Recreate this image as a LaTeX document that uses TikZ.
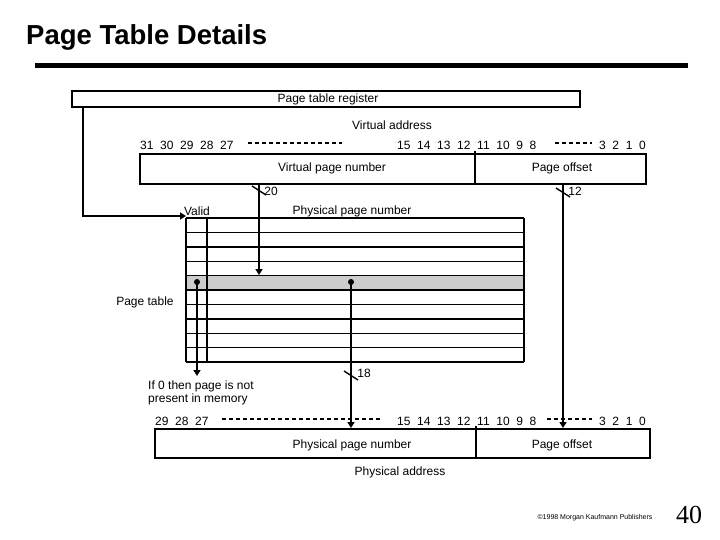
\documentclass[tikz,border=0pt]{standalone}
\usepackage{fontspec}
\setmainfont{Liberation Sans}
\newfontfamily\serifnum{Liberation Serif}
\usetikzlibrary{arrows.meta}
\begin{document}
\begin{tikzpicture}[x=1pt,y=-1pt,
  lbl/.style={inner sep=0pt,font=\fontsize{12}{13}\selectfont},
  box/.style={draw,line width=1.6pt},
  wire/.style={line width=1.6pt},
  arr/.style={wire,-{Triangle[length=6pt,width=7pt]}},
  dots/.style={line width=2pt,dash pattern=on 3.5pt off 3.5pt},
  slash/.style={line width=1.4pt}]
\useasboundingbox (0,0) rectangle (720,540);
\fill[white] (0,0) rectangle (720,540);
% title
\node[anchor=west,inner sep=0pt,font=\fontsize{27.5}{30}\selectfont\bfseries] (title) at (26,37) {Page Table Details};
\draw[line width=5pt] (35,66) -- (688,66);
% page table register
\node[box,minimum width=508pt,minimum height=16pt,inner sep=0pt,anchor=north west] (ptr) at (71,90) {};
\node[lbl] (ptrl) at (328,99) {Page table register};
% virtual address
\node[lbl] (va) at (392,125) {Virtual address};
\node[lbl,anchor=west] (vb1) at (140,145) {31\ \ 30\ \ 29\ \ 28\ \ 27};
\node[lbl,anchor=west] (vb2) at (397,145) {15\ \ 14\ \ 13\ \ 12\ \ 11\ \ 10\ \ 9\ \ 8};
\node[lbl,anchor=east] (vb3) at (646,145) {3\ \ 2\ \ 1\ \ 0};
\coordinate (vd1a) at (248,143); \coordinate (vd1b) at (342,143);
\coordinate (vd2a) at (555,143); \coordinate (vd2b) at (592,143);
\draw[dots] (vd1a) -- (vd1b);
\draw[dots] (vd2a) -- (vd2b);
\node[box,minimum width=506pt,minimum height=30pt,inner sep=0pt,anchor=north west] (vabox) at (139,153) {};
\coordinate (vdivt) at (475,151); \coordinate (vdivb) at (475,183);
\draw[wire] (vdivt) -- (vdivb);
\node[lbl] (vpn) at (332,168) {Virtual page number};
\node[lbl] (vpo) at (562,168) {Page offset};
% register to table
\coordinate (r1) at (83,106); \coordinate (r2) at (83,216);
\coordinate (tbltl) at (186,216);
\draw[arr] (r1) -- (r2) -- (tbltl);
% labels
\node[lbl] (valid) at (197,211) {Valid};
\node[lbl] (ppnl) at (352,211) {Physical page number};
% table
\fill[black!20] (186,275) rectangle (524,289.4);
\foreach \i in {0,...,10} \draw[line width=1.4pt] (186,{218+14.4*\i}) -- (524,{218+14.4*\i});
\draw[line width=1.4pt] (186,218) -- (186,362) (207,218) -- (207,362) (524,218) -- (524,362);
\node[lbl] (pt) at (145,302) {Page table};
% 20 arrow
\coordinate (a20s) at (259,183); \coordinate (a20e) at (259,275);
\draw[arr] (a20s) -- (a20e);
\draw[slash] (252,186) -- (266,195);
\node[lbl] (n20) at (271,191) {20};
% 12 line
\coordinate (a12s) at (563,183); \coordinate (a12e) at (563,428);
\draw[arr] (a12s) -- (a12e);
\draw[slash] (556,188) -- (570,197);
\node[lbl] (n12) at (575,191) {12};
% valid arrow
\coordinate (vds) at (197,282); \coordinate (vde) at (197,376);
\fill (vds) circle (3pt);
\draw[arr] (vds) -- (vde);
\node[lbl,align=left,anchor=north west,font=\fontsize{12}{11}\selectfont] (if0) at (148,381) {If 0 then page is not\\present in memory};
% ppn arrow
\coordinate (pps) at (351,282); \coordinate (ppe) at (351,428);
\fill (pps) circle (3pt);
\draw[arr] (pps) -- (ppe);
\draw[slash] (344,371) -- (358,380);
\node[lbl] (n18) at (364,373) {18};
% physical address
\node[lbl,anchor=west] (pb1) at (155,421) {29\ \ 28\ \ 27};
\node[lbl,anchor=west] (pb2) at (397,421) {15\ \ 14\ \ 13\ \ 12\ \ 11\ \ 10\ \ 9\ \ 8};
\node[lbl,anchor=east] (pb3) at (646,421) {3\ \ 2\ \ 1\ \ 0};
\coordinate (pd1a) at (222,419); \coordinate (pd1b) at (382,419);
\coordinate (pd2a) at (547,419); \coordinate (pd2b) at (592,419);
\draw[dots] (pd1a) -- (pd1b);
\draw[dots] (pd2a) -- (pd2b);
\node[box,minimum width=495pt,minimum height=29pt,inner sep=0pt,anchor=north west] (pabox) at (154,428) {};
\coordinate (pdivt) at (476,426); \coordinate (pdivb) at (476,457);
\draw[wire] (pdivt) -- (pdivb);
\node[lbl] (ppn) at (352,445) {Physical page number};
\node[lbl] (ppo) at (562,445) {Page offset};
\node[lbl] (paddr) at (400,472) {Physical address};
% footer
\node[inner sep=0pt,font=\fontsize{7}{8}\selectfont] (copy) at (595,518) {\textcopyright 1998 Morgan Kaufmann Publishers};
\node[inner sep=0pt,font=\serifnum\fontsize{26}{28}\selectfont] (pg) at (689,515) {40};
\end{tikzpicture}
\end{document}
